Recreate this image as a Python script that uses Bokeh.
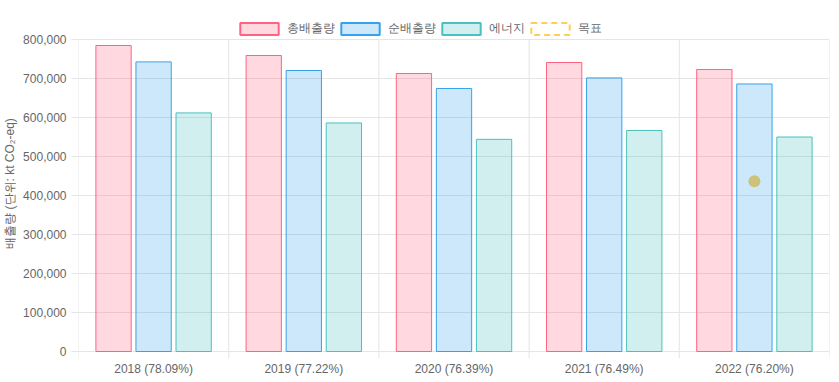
from bokeh.plotting import figure
from bokeh.models import (ColumnDataSource, FactorRange, Range1d, NumeralTickFormatter,
                          FixedTicker, Legend, LegendItem)
from bokeh.transform import dodge
from bokeh.embed import file_html
from bokeh.resources import INLINE

# ---- data ----
years = ["2018", "2019", "2020", "2021", "2022"]
energy_share = ["78.09%", "77.22%", "76.39%", "76.49%", "76.20%"]
total = [784600, 759000, 712800, 741000, 723000]
net = [742600, 720500, 674400, 701500, 686000]
energy = [611800, 586000, 544000, 566700, 550000]
target_year = "2022"
target_value = 436600
y_ticks = [0, 100000, 200000, 300000, 400000, 500000, 600000, 700000, 800000]
y_max = 800000

labels = [f"{y} ({s})" for y, s in zip(years, energy_share)]
src = ColumnDataSource(dict(x=labels, total=total, net=net, energy=energy))

FONT = "Liberation Sans"
TXT = "#666666"
GRID = "#e5e5e5"

# frame: 312 px for 0..800k, 343 px above zero (room for legend), 7 px below zero
px = y_max / 312.0
p = figure(x_range=FactorRange(factors=labels, range_padding=0, factor_padding=0),
           y_range=Range1d(-7 * px, 343 * px),
           frame_width=751, frame_height=350,
           output_backend="svg", toolbar_location=None,
           min_border_left=72, min_border_right=1, min_border_top=8, min_border_bottom=16)

p.outline_line_color = None
p.background_fill_color = "white"
p.xgrid.visible = False

# horizontal grid
p.ygrid.ticker = FixedTicker(ticks=y_ticks)
p.ygrid.grid_line_color = GRID

# vertical category boundary lines (incl. the tick stubs below the axis)
nb = list(range(len(years) + 1))
p.segment(x0=nb, x1=nb, y0=[-7 * px] * len(nb), y1=[y_max] * len(nb),
          line_color=GRID, line_width=1)

# legend-only proxy source (one row with no drawable height)
proxy_src = ColumnDataSource(dict(x=[labels[0]], top=[float("nan")]))

cols = [("total", "#ff6384", -0.2667, "총배출량"),
        ("net", "#36a2eb", 0.0, "순배출량"),
        ("energy", "#4bc0c0", 0.2667, "에너지")]
items = []
for field, c, off, name in cols:
    p.vbar(x=dodge("x", off, range=p.x_range), top=field, width=0.235, source=src,
           fill_color=c, fill_alpha=0.25, line_color=c, line_width=1)
    proxy = p.vbar(x="x", top="top", width=0.2, source=proxy_src, fill_color=c,
                   fill_alpha=0.25, line_color=c, line_width=2)
    items.append(LegendItem(label=name, renderers=[proxy]))

# target legend proxy and target point
r_t = p.vbar(x="x", top="top", width=0.2, source=proxy_src, fill_alpha=0,
             line_color="#ffce56", line_dash="6 4", line_width=2)
items.append(LegendItem(label="목표", renderers=[r_t]))
p.scatter(x=[labels[years.index(target_year)]], y=[target_value], size=12,
          fill_color="#cec27a", line_color=None)

legend = Legend(items=items, orientation="horizontal", location=(157, 321),
                glyph_width=48, glyph_height=15, label_standoff=4, spacing=1,
                padding=0, margin=0, border_line_color=None, background_fill_alpha=0,
                label_text_font=FONT, label_text_font_size="12px", label_text_color=TXT)
p.add_layout(legend, "center")

# y axis
p.yaxis.ticker = FixedTicker(ticks=y_ticks)
p.yaxis.bounds = (0, y_max)
p.yaxis.formatter = NumeralTickFormatter(format="0,0")
p.yaxis.axis_label = "배출량 (단위: kt CO₂-eq)"
p.yaxis.axis_label_text_font = FONT
p.yaxis.axis_label_text_font_style = "normal"
p.yaxis.axis_label_text_font_size = "12px"
p.yaxis.axis_label_text_color = TXT
p.yaxis.axis_label_standoff = 3
p.yaxis.major_label_text_font = FONT
p.yaxis.major_label_text_font_size = "12px"
p.yaxis.major_label_text_color = TXT
p.yaxis.major_label_standoff = 5
p.yaxis.major_tick_out = 7
p.yaxis.major_tick_in = 0
p.yaxis.major_tick_line_color = GRID
p.yaxis.minor_tick_line_color = None
p.yaxis.axis_line_color = None

# x axis
p.xaxis.major_label_text_font = FONT
p.xaxis.major_label_text_font_size = "12px"
p.xaxis.major_label_text_color = TXT
p.xaxis.major_tick_line_color = None
p.xaxis.major_tick_out = 0
p.xaxis.major_tick_in = 0
p.xaxis.major_label_standoff = 3
p.xaxis.axis_line_color = None

open("out.html", "w").write(file_html(p, INLINE))
